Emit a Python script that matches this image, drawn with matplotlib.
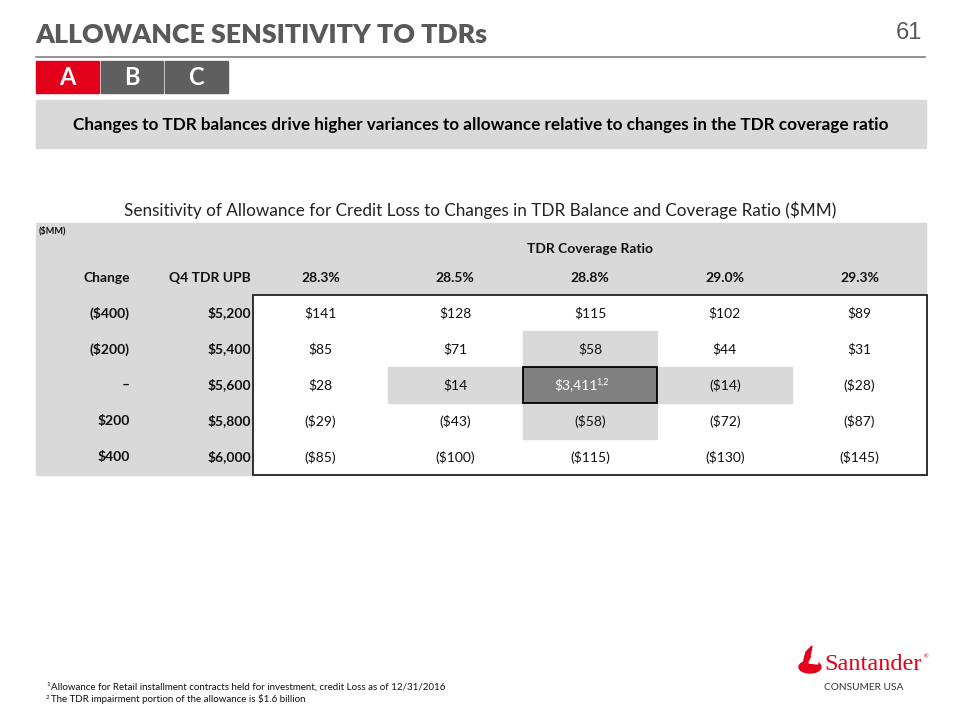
import matplotlib.pyplot as plt
from matplotlib.patches import Rectangle, Ellipse, Polygon

plt.rcParams['font.family'] = ['Lato', 'DejaVu Sans']

# Table data
changes = ["($400)", "($200)", "\u2013", "$200", "$400"]
upb = ["$5,200", "$5,400", "$5,600", "$5,800", "$6,000"]
ratios = ["28.3%", "28.5%", "28.8%", "29.0%", "29.3%"]
row_400n = ["$141", "$128", "$115", "$102", "$89"]
row_200n = ["$85", "$71", "$58", "$44", "$31"]
row_base = ["$28", "$14", "$3,411", "($14)", "($28)"]
row_200p = ["($29)", "($43)", "($58)", "($72)", "($87)"]
row_400p = ["($85)", "($100)", "($115)", "($130)", "($145)"]
values = [row_400n, row_200n, row_base, row_200p, row_400p]
shaded = [(1, 2), (2, 1), (2, 3), (3, 2)]
base_cell = (2, 2)

footnotes = ["Allowance for Retail installment contracts held for investment, credit Loss as of 12/31/2016",
             "The TDR impairment portion of the allowance is $1.6 billion"]

GRAY_TXT = "#595959"
RED = "#e2001a"
LIGHT = "#d9d9d9"
INK = "#111111"

fig = plt.figure(figsize=(9.6, 7.2), dpi=100)
ax = fig.add_axes([0, 0, 1, 1])
ax.set_xlim(0, 960)
ax.set_ylim(720, 0)
ax.axis("off")

# header
ax.text(35, 35, "ALLOWANCE SENSITIVITY TO TDRs", fontsize=19.3, fontweight="heavy",
        color=GRAY_TXT, va="center", ha="left")
ax.text(922, 33, "61", fontsize=17, color=GRAY_TXT, va="center", ha="right",
        family="Liberation Sans")
ax.plot([36, 925], [57, 57], color="#7f7f7f", lw=1.2)

for i, (lab, col) in enumerate(zip(["A", "B", "C"], [RED, "#5f5f5f", "#5f5f5f"])):
    x = 36 + i * 64.5
    ax.add_patch(Rectangle((x, 61), 62.5, 32, color=col))
    ax.text(x + 31, 77.5, lab, color="white", fontsize=17, fontweight="bold",
            ha="center", va="center")

ax.add_patch(Rectangle((36, 100), 890, 48, color=LIGHT))
ax.text(481, 125, "Changes to TDR balances drive higher variances to allowance relative to changes in the TDR coverage ratio",
        fontsize=12.3, fontweight="bold", color="black", ha="center", va="center")

ax.text(480, 210, "Sensitivity of Allowance for Credit Loss to Changes in TDR Balance and Coverage Ratio ($MM)",
        fontsize=12.3, color="#222222", ha="center", va="center")

# table
top, hdr_bot, rh = 223, 295, 36
x0, cw = 253, 134.8
ax.add_patch(Rectangle((36, top), 890, 252, color=LIGHT))
ax.add_patch(Rectangle((x0, hdr_bot), cw * 5, rh * 5, facecolor="white", edgecolor="none"))
for r, c in shaded:
    ax.add_patch(Rectangle((x0 + c * cw, hdr_bot + r * rh), cw, rh, color=LIGHT))
br, bc = base_cell
ax.add_patch(Rectangle((x0 + bc * cw, hdr_bot + br * rh), cw, rh,
                       facecolor="#808080", edgecolor="black", lw=1.3, zorder=3))
ax.add_patch(Rectangle((x0, hdr_bot), cw * 5, rh * 5, facecolor="none",
                       edgecolor="#222222", lw=1.3, zorder=4))

ax.text(39, 231, "($MM)", fontsize=6.5, fontweight="bold", color=INK, va="center")
ax.text(x0 + 2.5 * cw, 249, "TDR Coverage Ratio", fontsize=10, fontweight="bold",
        color=INK, ha="center", va="center")
hy = 278
ax.text(130, hy, "Change", fontsize=10, fontweight="bold", ha="right", va="center", color=INK)
ax.text(251, hy, "Q4 TDR UPB", fontsize=10, fontweight="bold", ha="right", va="center", color=INK)
for c, lab in enumerate(ratios):
    ax.text(x0 + (c + 0.5) * cw, hy, lab, fontsize=10, fontweight="bold",
            ha="center", va="center", color=INK)

for r in range(5):
    y = hdr_bot + (r + 0.5) * rh
    ax.text(130, y, changes[r], fontsize=10, fontweight="bold", ha="right", va="center", color=INK)
    ax.text(251, y, upb[r], fontsize=10, fontweight="bold", ha="right", va="center", color=INK)
    for c in range(5):
        xc = x0 + (c + 0.5) * cw
        if (r, c) == base_cell:
            ax.text(xc + 8, y, values[r][c], fontsize=10, ha="right", va="center",
                    color="white", zorder=5)
            ax.text(xc + 6.5, y - 3, "1,2", fontsize=6.5, ha="left", va="center",
                    color="white", zorder=5)
        else:
            ax.text(xc, y, values[r][c], fontsize=10, ha="center", va="center", color=INK)

# footnotes
for i, note in enumerate(footnotes):
    y = 687 + i * 12.5
    ax.text(46, y - 2, str(i + 1), fontsize=4.5, va="center", color=INK)
    ax.text(51, y, note, fontsize=7.05, va="center", color=INK)

# logo
ax.add_patch(Ellipse((810, 667), 22, 12, color=RED))
ax.add_patch(Polygon([[803, 664], [806, 652], [812, 646], [810, 656], [816, 662]], color=RED))
ax.add_patch(Polygon([[809, 663], [813, 654], [818, 650], [815, 658], [818, 664]], color="white"))
ax.text(824, 664, "Santander", fontsize=17.5, color=RED, family="Liberation Serif",
        va="center", ha="left")
ax.text(924, 657, "\u00ae", fontsize=4, color=RED, va="center")
ax.text(903, 688, "CONSUMER USA", fontsize=7.3, color="#333333", ha="right", va="center")

fig.savefig("out.png", dpi=100)
